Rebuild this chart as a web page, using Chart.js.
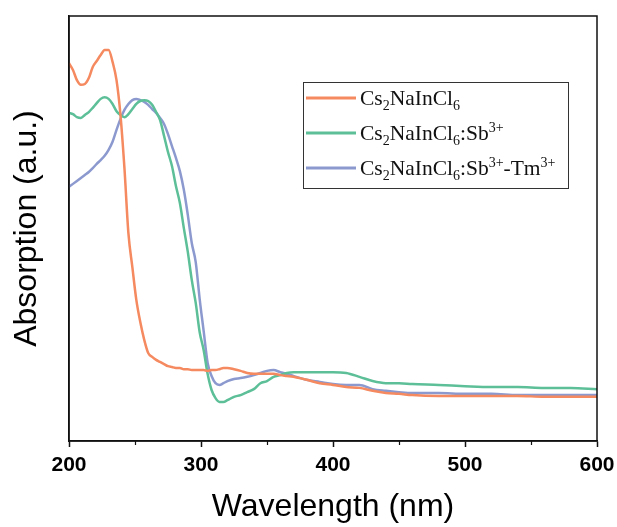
<!DOCTYPE html>
<html>
<head>
<meta charset="utf-8">
<title>Absorption spectra</title>
<script src="https://cdn.jsdelivr.net/npm/chart.js@4.4.1/dist/chart.umd.min.js"></script>
<style>
  html, body { margin: 0; padding: 0; background: #fff; }
  canvas { display: block; }
</style>
</head>
<body>
<canvas id="absChart" width="617" height="527"></canvas>
<script>
// wavelength grid shared by all three spectra (nm)
const wavelengths = [200, 203, 206, 209, 212, 215, 218, 221, 224, 227, 230, 233, 236, 239, 242, 245, 248, 251, 254, 257,
  260, 263, 266, 269, 272, 275, 278, 281, 284, 287, 290, 293, 296, 299, 302, 305, 308, 311, 314, 317,
  320, 325, 330, 335, 340, 345, 350, 355, 360, 365, 370, 380, 390, 400, 410, 420, 430, 440, 450, 460,
  480, 500, 520, 540, 560, 580, 600];

// Cs2NaInCl6
const hostAbs = [0.889, 0.873, 0.849, 0.838, 0.840, 0.854, 0.880, 0.894, 0.908, 0.920, 0.920, 0.892, 0.849, 0.767, 0.642, 0.489, 0.409, 0.332, 0.280, 0.238,
  0.207, 0.198, 0.191, 0.186, 0.181, 0.176, 0.174, 0.172, 0.172, 0.169, 0.169, 0.167, 0.167, 0.167, 0.167, 0.165, 0.167, 0.167, 0.169, 0.172,
  0.172, 0.169, 0.165, 0.160, 0.158, 0.158, 0.158, 0.158, 0.155, 0.153, 0.151, 0.144, 0.136, 0.132, 0.127, 0.125, 0.118, 0.113, 0.111, 0.108,
  0.106, 0.106, 0.106, 0.106, 0.104, 0.104, 0.104];

// Cs2NaInCl6:Sb3+
const sbAbs = [0.772, 0.769, 0.762, 0.760, 0.767, 0.774, 0.784, 0.795, 0.805, 0.809, 0.805, 0.793, 0.776, 0.767, 0.762, 0.769, 0.781, 0.793, 0.800, 0.802,
  0.800, 0.791, 0.774, 0.755, 0.718, 0.680, 0.647, 0.600, 0.560, 0.501, 0.445, 0.379, 0.325, 0.256, 0.214, 0.158, 0.120, 0.101, 0.092, 0.092,
  0.096, 0.104, 0.108, 0.115, 0.122, 0.136, 0.141, 0.151, 0.155, 0.160, 0.162, 0.162, 0.162, 0.162, 0.160, 0.151, 0.141, 0.136, 0.136, 0.134,
  0.132, 0.129, 0.127, 0.127, 0.125, 0.125, 0.122];

// Cs2NaInCl6:Sb3+-Tm3+
const sbTmAbs = [0.598, 0.605, 0.612, 0.619, 0.626, 0.633, 0.642, 0.652, 0.661, 0.671, 0.685, 0.704, 0.732, 0.758, 0.779, 0.793, 0.802, 0.805, 0.802, 0.798,
  0.791, 0.781, 0.772, 0.760, 0.746, 0.722, 0.694, 0.666, 0.635, 0.591, 0.532, 0.466, 0.421, 0.334, 0.259, 0.184, 0.153, 0.136, 0.132, 0.136,
  0.141, 0.146, 0.148, 0.151, 0.155, 0.160, 0.165, 0.167, 0.162, 0.158, 0.153, 0.144, 0.139, 0.134, 0.132, 0.132, 0.122, 0.118, 0.115, 0.113,
  0.113, 0.111, 0.111, 0.108, 0.108, 0.108, 0.108];

// legend labels: _x = subscript char, ^{..} = superscript
const seriesLabels = ['Cs_2NaInCl_6', 'Cs_2NaInCl_6:Sb^{3+}', 'Cs_2NaInCl_6:Sb^{3+}-Tm^{3+}'];
const seriesColors = ['#F5895F', '#5CBF98', '#8B99CF'];
const xTicks = [200, 300, 400, 500, 600];

const toPoints = ys => wavelengths.map((x, i) => ({ x, y: ys[i] }));

// split "Cs_2NaInCl_6:Sb^{3+}" into runs of normal / sub / sup text
function parseLabel(str) {
  const runs = [];
  let i = 0, buf = '';
  const flush = () => { if (buf) { runs.push({ t: buf, k: 'n' }); buf = ''; } };
  while (i < str.length) {
    const c = str[i];
    if (c === '_') { flush(); runs.push({ t: str[i + 1], k: 'sub' }); i += 2; }
    else if (c === '^' && str[i + 1] === '{') {
      flush();
      const end = str.indexOf('}', i);
      runs.push({ t: str.slice(i + 2, end), k: 'sup' });
      i = end + 1;
    } else { buf += c; i++; }
  }
  flush();
  return runs;
}

// frame on all four sides + short minor ticks on the x axis
const framePlugin = {
  id: 'frame',
  afterDraw(chart) {
    const { ctx, chartArea: a, scales } = chart;
    ctx.save();
    ctx.strokeStyle = '#111';
    ctx.lineWidth = 1.5;
    ctx.strokeRect(a.left, a.top, a.right - a.left, a.bottom - a.top);
    ctx.lineWidth = 1.2;
    for (let v = 250; v < 600; v += 100) {
      const px = Math.round(scales.x.getPixelForValue(v)) + 0.5;
      ctx.beginPath();
      ctx.moveTo(px, a.bottom);
      ctx.lineTo(px, a.bottom + 4);
      ctx.stroke();
    }
    ctx.restore();
  }
};

// boxed legend with sub/superscripts in a serif face
const richLegend = {
  id: 'richLegend',
  afterDraw(chart) {
    const { ctx } = chart;
    const box = { x: 303, y: 82, w: 265, h: 106 };
    const size = 21.5;
    ctx.save();
    ctx.strokeStyle = '#333';
    ctx.lineWidth = 1;
    ctx.strokeRect(box.x + 0.5, box.y + 0.5, box.w, box.h);
    chart.data.datasets.forEach((ds, i) => {
      const rowY = box.y + 16 + i * 35;
      ctx.strokeStyle = ds.borderColor;
      ctx.lineWidth = 3;
      ctx.beginPath();
      ctx.moveTo(box.x + 3, rowY);
      ctx.lineTo(box.x + 53, rowY);
      ctx.stroke();
      let x = box.x + 57;
      ctx.fillStyle = '#111';
      ctx.textBaseline = 'alphabetic';
      parseLabel(ds.label).forEach(r => {
        const fs = r.k === 'n' ? size : Math.round(size * 0.66);
        const dy = r.k === 'sub' ? 5 : r.k === 'sup' ? -8 : 0;
        ctx.font = fs + 'px "Liberation Serif", "Times New Roman", serif';
        ctx.fillText(r.t, x, rowY + 7 + dy);
        x += ctx.measureText(r.t).width;
      });
    });
    ctx.restore();
  }
};

const ctx = document.getElementById('absChart').getContext('2d');
new Chart(ctx, {
  type: 'line',
  data: {
    datasets: [hostAbs, sbAbs, sbTmAbs].map((ys, i) => ({
      label: seriesLabels[i],
      data: toPoints(ys),
      borderColor: seriesColors[i],
      borderWidth: 2.5,
      pointRadius: 0,
      fill: false,
      tension: 0.4,
      cubicInterpolationMode: 'monotone'
    }))
  },
  options: {
    responsive: false,
    animation: false,
    layout: { padding: { top: 16, right: 20, left: 0, bottom: 0 } },
    plugins: { legend: { display: false }, tooltip: { enabled: false } },
    scales: {
      x: {
        type: 'linear',
        min: 200,
        max: 600,
        // fixed axis band; end labels may hang into the page margins
        afterFit: s => { s.height = 86; s.paddingLeft = 0; s.paddingRight = 0; },
        ticks: {
          stepSize: 50,
          autoSkip: false,
          maxRotation: 0,
          padding: 6,
          color: '#000',
          font: { family: '"Liberation Sans", Arial, sans-serif', size: 21, weight: 'bold' },
          callback: v => (xTicks.includes(v) ? v : '')
        },
        grid: {
          drawOnChartArea: false,
          tickLength: 6,
          tickWidth: 1.5,
          tickColor: c => (c.tick && xTicks.includes(c.tick.value) ? '#111' : 'rgba(0,0,0,0)')
        },
        border: { color: '#111', width: 1.5 },
        title: {
          display: true,
          text: 'Wavelength (nm)',
          color: '#000',
          font: { family: '"Liberation Sans", Arial, sans-serif', size: 32 },
          padding: { top: 0, bottom: 1 }
        }
      },
      y: {
        min: 0,
        max: 1,
        afterFit: s => { s.width = 69; },
        ticks: { display: false },
        grid: { display: false },
        border: { color: '#111', width: 1.5 },
        title: {
          display: true,
          text: 'Absorption (a.u.)',
          color: '#000',
          font: { family: '"Liberation Sans", Arial, sans-serif', size: 32 },
          padding: { top: 8, bottom: 0 }
        }
      }
    }
  },
  plugins: [framePlugin, richLegend]
});
</script>
</body>
</html>
